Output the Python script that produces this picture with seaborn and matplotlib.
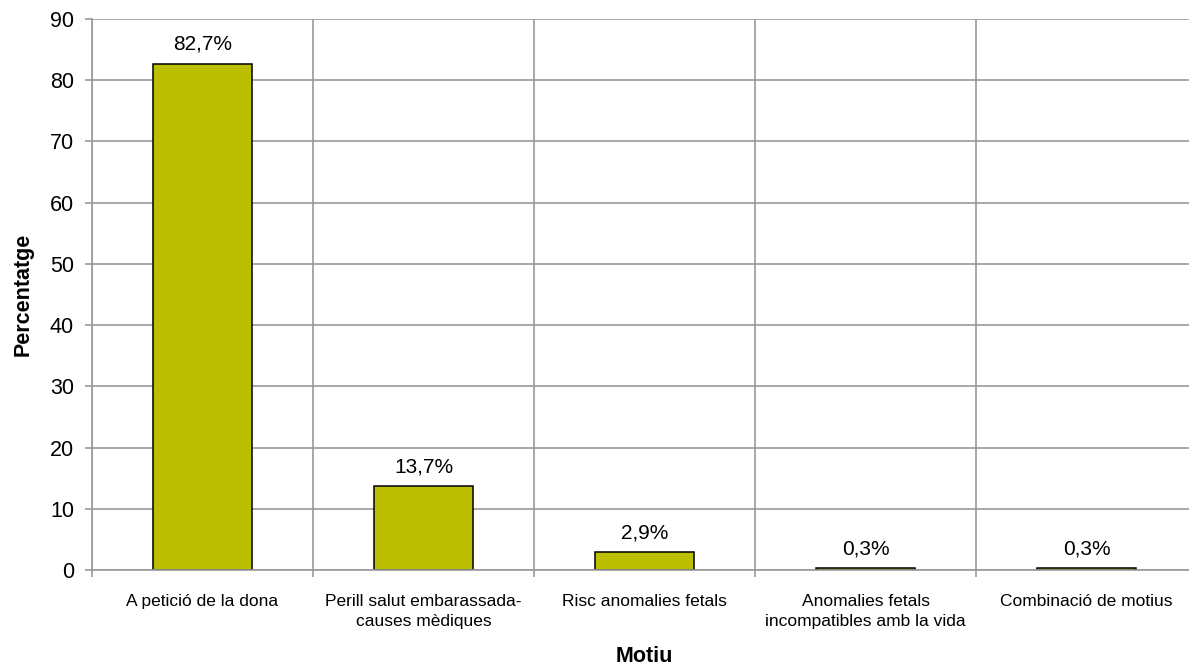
import numpy as np
import pandas as pd
import matplotlib
matplotlib.use("Agg")
import matplotlib.pyplot as plt
import seaborn as sns

# data
motius = ["A petició de la dona",
          "Perill salut embarassada-\ncauses mèdiques",
          "Risc anomalies fetals",
          "Anomalies fetals\nincompatibles amb la vida",
          "Combinació de motius"]
percentatge = [82.7, 13.7, 2.9, 0.3, 0.3]
etiquetes = ["82,7%", "13,7%", "2,9%", "0,3%", "0,3%"]

df = pd.DataFrame({"Motiu": motius, "Percentatge": percentatge})

sns.set_style("white")
plt.rcParams["font.family"] = ["Liberation Sans", "DejaVu Sans"]
plt.rcParams["text.color"] = "black"
plt.rcParams["axes.labelcolor"] = "black"
plt.rcParams["xtick.color"] = "black"
plt.rcParams["ytick.color"] = "black"

fig = plt.figure(figsize=(11.89, 6.71), dpi=100)
ax = fig.add_axes([92 / 1189, 1 - 570 / 671, (1197 - 92) / 1189, (570 - 19) / 671])

sns.barplot(data=df, x="Motiu", y="Percentatge", color="#BCBE00",
            edgecolor="black", linewidth=1.1, width=0.45, saturation=1, ax=ax)

for i, (v, lab) in enumerate(zip(percentatge, etiquetes)):
    ax.annotate(lab, (i, v), xytext=(0, 7), textcoords="offset points",
                ha="center", va="bottom", fontsize=15, color="black")

ax.set_xlim(-0.5, len(motius) - 0.5)
ax.set_ylim(0, 90)
ax.set_yticks(np.arange(0, 91, 10))
ax.set_xticks(np.arange(len(motius)))
ax.set_xticklabels(motius, linespacing=1.45)
ax.set_xticks(np.arange(-0.5, len(motius), 1), minor=True)

ax.set_axisbelow(True)
ax.grid(axis="y", which="major", color="#999999", linewidth=1.2)
ax.grid(axis="x", which="minor", color="#999999", linewidth=1.2)
ax.grid(axis="x", which="major", visible=False)

ax.tick_params(axis="y", which="major", length=5, width=1.2, color="#999999",
               labelcolor="black", labelsize=15.5, pad=8, left=True)
ax.tick_params(axis="x", which="major", length=0, labelsize=12.5, pad=17,
               labelcolor="black")
ax.tick_params(axis="x", which="minor", length=5, width=1.2, color="#999999", bottom=True)

for s in ["top", "right"]:
    ax.spines[s].set_visible(False)
for s in ["left", "bottom"]:
    ax.spines[s].set_color("#999999")
    ax.spines[s].set_linewidth(1.2)

ax.set_xlabel("Motiu", fontsize=15.5, fontweight="bold", labelpad=12.5)
ax.set_ylabel("Percentatge", fontsize=15.5, fontweight="bold", labelpad=12)

fig.savefig("out.png", dpi=100)
